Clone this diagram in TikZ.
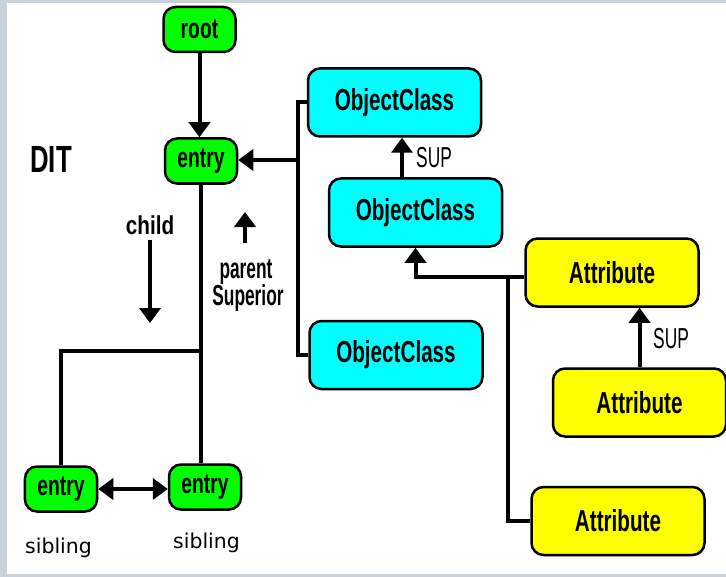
\documentclass[tikz,border=0pt]{standalone}
\usepackage{fontspec}
\usepackage{tikz}
\usetikzlibrary{arrows.meta, positioning, calc}
\newfontfamily\narrowfont[FakeStretch=0.68]{Liberation Sans}
\newfontfamily\slimfont[FakeStretch=0.6]{Liberation Sans}
\newfontfamily\childfont[FakeStretch=0.8]{Liberation Sans}
\newfontfamily\sibfont{DejaVu Sans}
\definecolor{FrameGray}{HTML}{C8D2DA}
\definecolor{EntryGreen}{HTML}{00FF00}
\definecolor{ClassCyan}{HTML}{00FFFF}
\definecolor{AttrYellow}{HTML}{FFFF00}
\begin{document}
\begin{tikzpicture}[
        x=1bp, y=-1bp, line join=miter,
        box/.style={draw=black, line width=2.5bp, rounded corners=12bp, inner sep=0pt,
                    font=\narrowfont\bfseries\fontsize{30.5}{32}\selectfont},
        dbox/.style={box, fill=EntryGreen, minimum width=72bp, minimum height=45bp,
                     font=\narrowfont\bfseries\fontsize{28.5}{30}\selectfont},
        ocbox/.style={box, fill=ClassCyan, minimum width=173bp, minimum height=68bp},
        atbox/.style={box, fill=AttrYellow, minimum width=173bp, minimum height=68bp},
        note/.style={inner sep=0pt, anchor=base, font=\slimfont\bfseries\fontsize{29}{31}\selectfont},
        sup/.style={inner sep=0pt, anchor=base west, font=\slimfont\fontsize{29}{31}\selectfont},
        sib/.style={inner sep=0pt, anchor=base, font=\sibfont\fontsize{20.5}{22}\selectfont},
        tie/.style={line width=4bp},
        link/.style={-{Triangle[length=15bp,width=21bp]}, line width=4bp},
      ]
        \fill[FrameGray] (0,0) rectangle (726,577);
        \fill[white] (7,3) rectangle (726,574);
        \useasboundingbox (0,0) rectangle (726,577);
        \node[dbox] (root)  at (199.5,29.5) {root};
        \node[dbox] (entry) at (201,161)    {entry};
        \node[dbox] (sibA)  at (61,489)     {entry};
        \node[dbox] (sibB)  at (205,487)    {entry};
        \node[ocbox] (ocTop) at (394.5,102.5) {ObjectClass};
        \node[ocbox] (ocMid) at (415.5,212.5) {ObjectClass};
        \node[ocbox] (ocLow) at (396,355)     {ObjectClass};
        \node[atbox] (atTop) at (612,272.5) {Attribute};
        \node[atbox] (atMid) at (639.5,402.5) {Attribute};
        \node[atbox] (atLow) at (618,521)   {Attribute};
        \node[font=\narrowfont\bfseries\fontsize{38}{40}\selectfont, inner sep=0pt] (dit) at (51,159.5) {DIT};
        \node[note, font=\childfont\bfseries\fontsize{26}{28}\selectfont] (child) at (150,234) {child};
        \node[note] (parent) at (246,278) {parent};
        \node[note] (superior) at (248,305) {Superior};
        \node[sup] (supA) at (416,168) {SUP};
        \node[sup] (supB) at (653,348) {SUP};
        \node[sib] (sibtxtA) at (58.5,553) {sibling};
        \node[sib] (sibtxtB) at (206.5,548) {sibling};
        \coordinate (childA) at (150,240);
        \coordinate (childB) at (150,323);
        \coordinate (parentA) at (245,243);
        \coordinate (parentB) at (245,212);
        \coordinate (fork) at (201,351);
        \coordinate (ocbus) at (298,160);
        \coordinate (atbus) at (508,277);
        \draw[link] (root.south) -- (root.south |- entry.north);
        \draw[tie] (entry.south) -- (entry.south |- sibB.north);
        \draw[tie] (fork) -| (sibA.north);
        \draw[{Triangle[length=15bp,width=21bp]}-{Triangle[length=15bp,width=21bp]}, line width=4bp]
            (sibA.east) -- (sibA.east -| sibB.west);
        \draw[link] (childA) -- (childB);
        \draw[link] (parentA) -- (parentB);
        \draw[tie] (ocTop.west) -| (ocbus) |- (ocLow.west);
        \draw[link] (ocbus) -- (ocbus -| entry.east);
        \draw[link] ([xshift=-13.5bp]ocMid.north) -- ([xshift=-13.5bp]ocMid.north |- ocTop.south);
        \draw[link] (atTop.west |- atbus) -| (ocMid.south);
        \draw[tie] (atbus) |- (atLow.west);
        \draw[link] (atMid.north) -- (atMid.north |- atTop.south);
      \end{tikzpicture}
\end{document}
